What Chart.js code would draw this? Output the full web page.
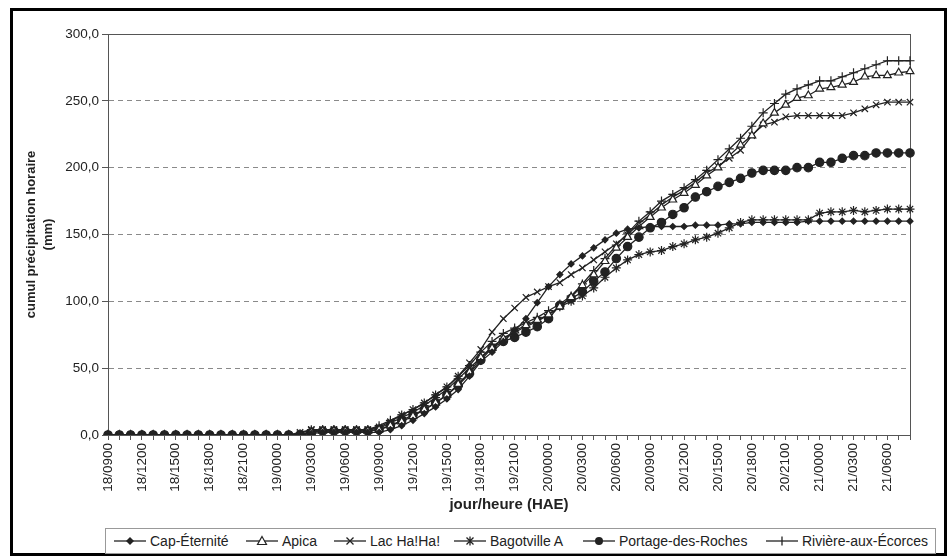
<!DOCTYPE html>
<html>
<head>
<meta charset="utf-8">
<script src="https://cdn.jsdelivr.net/npm/chart.js@4.4.1/dist/chart.umd.min.js"></script>
<style>
  body { margin: 0; background: #fff; font-family: 'Liberation Sans', Arial, sans-serif; }
  #wrap { position: relative; width: 950px; height: 558px; }
  #frame { position: absolute; left: 10px; top: 8px; width: 931px; height: 542px; border: 3px solid #000; pointer-events: none; }
  #legend { position: absolute; left: 105px; top: 528px; width: 829px; height: 24px; border: 1px solid #999; background: #fff; }
  .item { position: absolute; top: 0; height: 24px; line-height: 24px; font-size: 14px; color: #222; white-space: nowrap; }
  .item svg { position: absolute; top: 6px; left: 0; }
  .item span { position: absolute; left: 36px; top: 0; }
</style>
</head>
<body>
<div id="wrap">
  <canvas id="rainChart"></canvas>
  <div id="frame"></div>
  <div id="legend"></div>
</div>
<script>
// hourly categories, day/hour (HAE)
const hours = [
  '18/0900','18/1000','18/1100','18/1200','18/1300','18/1400','18/1500','18/1600','18/1700','18/1800','18/1900','18/2000',
  '18/2100','18/2200','18/2300','19/0000','19/0100','19/0200','19/0300','19/0400','19/0500','19/0600','19/0700','19/0800',
  '19/0900','19/1000','19/1100','19/1200','19/1300','19/1400','19/1500','19/1600','19/1700','19/1800','19/1900','19/2000',
  '19/2100','19/2200','19/2300','20/0000','20/0100','20/0200','20/0300','20/0400','20/0500','20/0600','20/0700','20/0800',
  '20/0900','20/1000','20/1100','20/1200','20/1300','20/1400','20/1500','20/1600','20/1700','20/1800','20/1900','20/2000',
  '20/2100','20/2200','20/2300','21/0000','21/0100','21/0200','21/0300','21/0400','21/0500','21/0600','21/0700','21/0800'
];

const capEternite = [
  0,0,0,0,0,0,0,0,0,0,0,0,
  0,0,0,0,0,0,1,2,2,2,2,2,
  2,4,7,11,16,21,27,34,44,55,62,70,
  78,87,99,111,120,128,134,140,146,151,154,155,
  156,156,156,156,157,157,157,158,158,159,159,159,
  159,159,160,160,160,160,160,160,160,160,160,160
];
const apica = [
  0,0,0,0,0,0,0,0,0,0,0,0,
  0,0,0,0,0,0,2,3,3,3,3,3,
  4,7,10,14,19,24,30,38,47,58,65,72,
  78,82,86,90,96,103,112,120,130,140,148,156,
  163,170,176,181,187,194,200,209,217,224,233,241,
  247,252,254,259,260,262,264,268,269,269,271,272
];
const lacHaHa = [
  0,0,0,0,0,0,0,0,0,0,0,0,
  0,0,0,0,0,2,4,4,4,4,4,4,
  6,10,15,19,24,30,36,44,54,64,77,87,
  95,103,107,111,114,120,125,131,137,143,150,158,
  165,172,178,183,189,196,201,207,213,224,232,234,
  238,239,239,239,239,239,241,244,247,249,249,249
];
const bagotville = [
  0,0,0,0,0,0,0,0,0,0,0,0,
  0,0,0,0,0,1,4,4,4,4,4,4,
  5,9,13,17,22,28,34,42,50,58,66,72,
  77,81,85,90,96,100,104,110,118,125,131,135,
  137,138,141,143,146,148,151,155,159,161,161,161,
  161,161,161,166,167,167,168,167,168,169,169,169
];
const portage = [
  0,0,0,0,0,0,0,0,0,0,0,0,
  0,0,0,0,0,0,2,3,3,3,3,3,
  4,7,11,15,19,24,30,37,46,56,65,70,
  73,77,81,87,97,102,107,115,122,132,141,148,
  155,159,165,170,178,182,186,189,192,196,198,198,
  198,200,200,204,204,207,209,209,211,211,211,211
];
const riviere = [
  0,0,0,0,0,0,0,0,0,0,0,0,
  0,0,0,0,0,0,3,4,4,4,4,4,
  7,11,15,19,24,30,36,44,52,62,70,76,
  80,84,88,93,98,104,113,123,132,142,151,160,
  167,175,180,185,191,198,206,214,222,231,241,248,
  255,259,262,265,265,268,271,274,277,280,280,280
];

const stations = ['Cap-Éternité', 'Apica', 'Lac Ha!Ha!', 'Bagotville A', 'Portage-des-Roches', 'Rivière-aux-Écorces'];

const ink = '#222';
const font = "'Liberation Sans', Arial, sans-serif";

function serie(label, values, style, radius, fill) {
  return {
    label: label,
    data: values,
    borderColor: ink,
    borderWidth: 1.3,
    pointStyle: style,
    pointRadius: radius,
    pointBorderColor: ink,
    pointBackgroundColor: fill,
    pointBorderWidth: 1.2,
    tension: 0
  };
}

const datasets = [
  serie(stations[0], capEternite, 'rectRot', 3, ink),
  serie(stations[1], apica, 'triangle', 4.5, '#fff'),
  serie(stations[2], lacHaHa, 'crossRot', 4.5, ink),
  serie(stations[3], bagotville, 'star', 4.5, ink),
  serie(stations[4], portage, 'circle', 4.2, ink),
  serie(stations[5], riviere, 'cross', 4.5, ink)
];

// frame round the plot area (solid, like the excel chart)
const plotFrame = {
  id: 'plotFrame',
  beforeDatasetsDraw(chart) {
    const a = chart.chartArea, c = chart.ctx;
    c.save();
    c.strokeStyle = '#555';
    c.lineWidth = 1;
    c.strokeRect(a.left + 0.5, a.top + 0.5, a.right - a.left, a.bottom - a.top);
    c.restore();
  }
};

const ctx = document.getElementById('rainChart').getContext('2d');
const myChart = new Chart(ctx, {
  type: 'line',
  data: { labels: hours, datasets: datasets },
  options: {
    responsive: true,
    maintainAspectRatio: false,
    animation: false,
    layout: { padding: { left: 12, top: 34, right: 40, bottom: 43 } },
    plugins: {
      legend: { display: false },
      tooltip: { enabled: false }
    },
    scales: {
      x: {
        offset: false,
        grid: { drawOnChartArea: false, tickLength: 5, color: '#555' },
        border: { color: '#555' },
        ticks: {
          autoSkip: false,
          minRotation: 90,
          maxRotation: 90,
          padding: 3,
          color: ink,
          font: { family: font, size: 13.5 },
          callback: (v, i) => (i % 3 === 0 ? hours[i] : '')
        },
        title: {
          display: true,
          text: 'jour/heure (HAE)',
          color: ink,
          font: { family: font, size: 15, weight: 'bold' },
          padding: { top: 0, bottom: 1 }
        },
        afterFit: (scale) => { scale.height = 80; }
      },
      y: {
        min: 0,
        max: 300,
        grid: { color: '#8a8a8a', tickColor: '#555', tickLength: 6 },
        border: { color: '#555', dash: [5, 4] },
        ticks: {
          stepSize: 50,
          padding: 3,
          color: ink,
          font: { family: font, size: 13.5 },
          callback: (v) => v.toFixed(1).replace('.', ',')
        },
        title: {
          display: true,
          text: ['cumul précipitation horaire', '(mm)'],
          color: ink,
          font: { family: font, size: 13, weight: 'bold', lineHeight: 1.3 },
          padding: { top: 11, bottom: 0 }
        },
        afterFit: (scale) => { scale.width = 96; }
      }
    }
  },
  plugins: [plotFrame]
});

// legend built as html: line sample with marker, then the station name
const legendX = [8, 140, 228, 348, 477, 660];
const markerSvg = {
  'rectRot': '<polygon points="16,2 20,6 16,10 12,6" fill="#222"/>',
  'triangle': '<polygon points="16,1.5 20.5,9.5 11.5,9.5" fill="#fff" stroke="#222" stroke-width="1.2"/>',
  'crossRot': '<path d="M12.5,2.5 L19.5,9.5 M19.5,2.5 L12.5,9.5" stroke="#222" stroke-width="1.3"/>',
  'star': '<path d="M12.5,2.5 L19.5,9.5 M19.5,2.5 L12.5,9.5 M16,1.5 L16,10.5" stroke="#222" stroke-width="1.3"/>',
  'circle': '<circle cx="16" cy="6" r="4" fill="#222"/>',
  'cross': '<path d="M16,1.5 L16,10.5" stroke="#222" stroke-width="1.3"/>'
};
const legend = document.getElementById('legend');
datasets.forEach((d, i) => {
  const el = document.createElement('div');
  el.className = 'item';
  el.style.left = legendX[i] + 'px';
  el.innerHTML = '<svg width="32" height="12"><line x1="0" y1="6" x2="32" y2="6" stroke="#222" stroke-width="1.3"/>' +
    markerSvg[d.pointStyle] + '</svg><span></span>';
  el.querySelector('span').textContent = d.label;
  legend.appendChild(el);
});
</script>
</body>
</html>
